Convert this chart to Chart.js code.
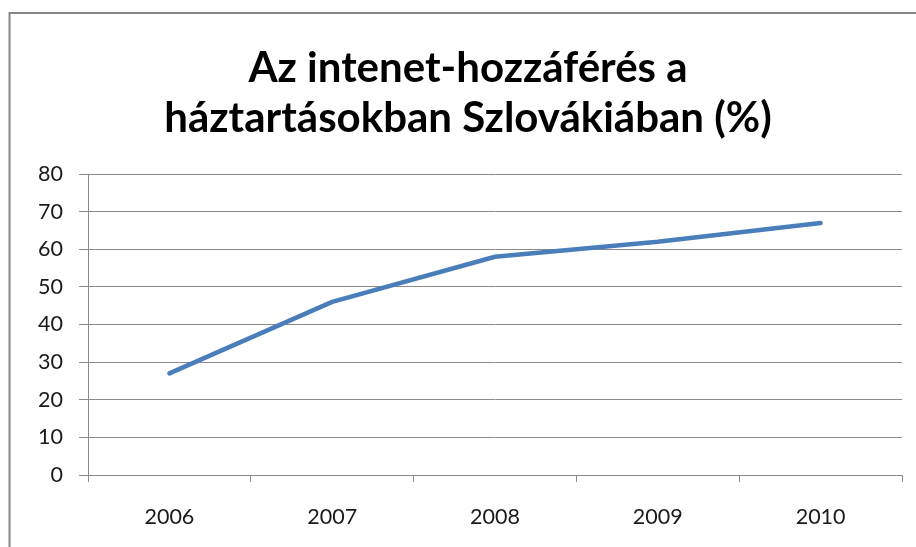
<!DOCTYPE html>
<html>
<head>
<meta charset="utf-8">
<script src="https://cdn.jsdelivr.net/npm/chart.js@4/dist/chart.umd.min.js"></script>
<style>
  html, body { margin: 0; padding: 0; background: #fff; }
  #wrap { position: relative; width: 916px; height: 547px; }
</style>
</head>
<body>
<div id="wrap"><canvas id="c" width="916" height="547"></canvas></div>
<script>
const titleLines = ["Az intenet-hozzáférés a", "háztartásokban Szlovákiában (%)"];
const years = ["2006", "2007", "2008", "2009", "2010"];
const values = [27, 46, 58, 62, 67];
const yMin = 0, yMax = 80, yStep = 10;

const frame = {
  id: 'frame',
  beforeDraw(chart) {
    const ctx = chart.ctx;
    ctx.save();
    ctx.fillStyle = '#fff';
    ctx.fillRect(0, 0, chart.width, chart.height);
    ctx.strokeStyle = '#878787';
    ctx.lineWidth = 2;
    ctx.strokeRect(9.5, 13, 2000, 2000);
    ctx.restore();
  }
};

const gridCol = '#8a8a8a';
new Chart(document.getElementById('c'), {
  type: 'line',
  data: {
    labels: years,
    datasets: [{
      data: values,
      borderColor: '#4A7EBB',
      borderWidth: 4.5,
      borderCapStyle: 'round',
      borderJoinStyle: 'round',
      pointRadius: 0,
      tension: 0,
      fill: false
    }]
  },
  plugins: [frame],
  options: {
    responsive: false,
    animation: false,
    devicePixelRatio: 1,
    layout: { padding: { left: 34, right: 14, top: 0, bottom: 0 } },
    plugins: {
      legend: { display: false },
      tooltip: { enabled: false },
      title: {
        display: true,
        text: titleLines,
        color: '#000',
        font: { family: 'Lato', weight: 'bold', size: 42, lineHeight: 50 / 42 },
        padding: { top: 43, bottom: 31 }
      }
    },
    scales: {
      x: {
        offset: true,
        grid: { display: true, offset: true, drawOnChartArea: false, drawTicks: true, tickLength: 7, color: gridCol, lineWidth: 1 },
        border: { display: true, color: gridCol, width: 1 },
        ticks: { color: '#1a1a1a', font: { family: 'Lato', size: 21.5 }, padding: 22, maxRotation: 0 },
        afterFit(s) { s.height = 72; }
      },
      y: {
        min: yMin, max: yMax,
        grid: { color: gridCol, lineWidth: 1, tickLength: 9 },
        border: { display: true, color: gridCol, width: 1 },
        ticks: { stepSize: yStep, color: '#1a1a1a', font: { family: 'Lato', size: 21.5 }, padding: 16 },
        afterFit(s) { s.width = 54; }
      }
    }
  }
});
</script>
</body>
</html>
